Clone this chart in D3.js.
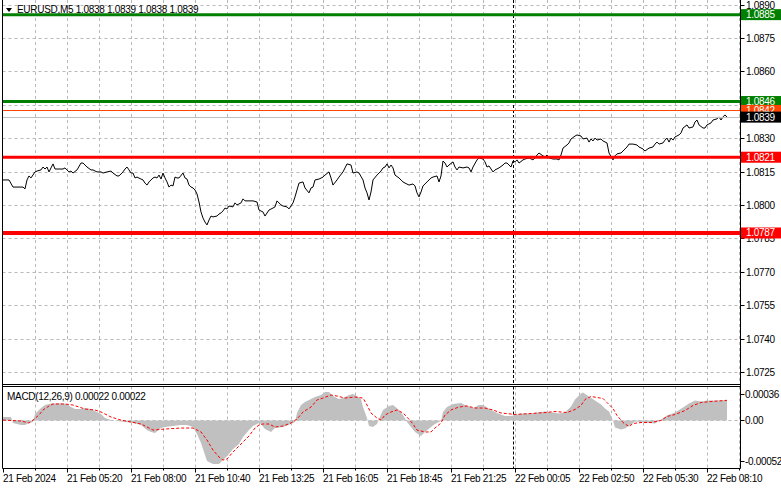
<!DOCTYPE html>
<html><head><meta charset="utf-8">
<script src="https://cdn.jsdelivr.net/npm/d3@7"></script>
<style>
html,body{margin:0;padding:0;background:#fff;}
svg{display:block;}
text{font-family:"Liberation Sans",Arial,sans-serif;font-size:10px;letter-spacing:-0.3px;fill:#000;}
</style></head><body>
<svg id="c" width="781" height="489"></svg>
<script>
// ---------------- DATA ----------------
const chartTitle = "EURUSD,M5  1.0838 1.0839 1.0838 1.0839";
const macdTitle = "MACD(12,26,9) 0.00022 0.00022";
const timeLabels = ["21 Feb 2024","21 Feb 05:20","21 Feb 08:00","21 Feb 10:40","21 Feb 13:25","21 Feb 16:05",
  "21 Feb 18:45","21 Feb 21:25","22 Feb 00:05","22 Feb 02:50","22 Feb 05:30","22 Feb 08:10"];
const timeLabelBars = [0,32,64,96,128,160,192,224,256,288,320,352];
const daySeparatorBar = 255;
const priceTicks = [1.0725,1.0740,1.0755,1.0770,1.0785,1.0800,1.0815,1.0830,1.0845,1.0860,1.0875,1.0890];
const hiddenPriceTicks = [1.0845]; // fully covered by the 1.0846 level label in the reference
const macdTicks = [0.00036, 0.00, -0.00052];
const macdTickLabels = ["0.00036","0.00","-0.00052"];
const resistanceLevels = [1.0885, 1.0846];
const supportLevels = [1.0821, 1.0787];
const askPrice = 1.0842;
const bidPrice = 1.0839;

// close price per bar index [bar, price]
const closeSeries = [
[0,1.08108],[3,1.08108],[5,1.08076],[10,1.08076],[11,1.08068],[12,1.08108],[13,1.08126],[14,1.08117],
[16,1.08144],[17,1.08148],[19,1.08153],[20,1.08166],[21,1.08157],[22,1.08166],[23,1.08144],[24,1.08162],
[25,1.08180],[26,1.08157],[28,1.08157],[30,1.08157],[31,1.08162],[33,1.08144],[34,1.08148],[35,1.08139],
[37,1.08153],[39,1.08184],[40,1.08184],[42,1.08166],[44,1.08153],[45,1.08153],[47,1.08144],[49,1.08144],
[50,1.08139],[52,1.08144],[54,1.08148],[55,1.08139],[57,1.08126],[58,1.08126],[60,1.08144],[61,1.08157],
[62,1.08166],[63,1.08153],[64,1.08139],[65,1.08139],[66,1.08117],[67,1.08121],[69,1.08112],[70,1.08108],
[71,1.08094],[72,1.08085],[73,1.08099],[75,1.08117],[76,1.08121],[77,1.08117],[78,1.08130],[79,1.08112],
[80,1.08139],[81,1.08117],[82,1.08099],[83,1.08076],[84,1.08085],[85,1.08081],[86,1.08121],[87,1.08117],
[88,1.08117],[90,1.08139],[91,1.08117],[92,1.08112],[93,1.08085],[94,1.08076],[95,1.08072],[96,1.08063],
[97,1.08045],[98,1.08009],[99,1.07964],[100,1.07937],[101,1.07919],[102,1.07906],[103,1.07928],[104,1.07946],
[105,1.07942],[107,1.07946],[108,1.07955],[109,1.07960],[110,1.07969],[111,1.07982],[112,1.07978],[113,1.07991],
[115,1.07987],[116,1.08005],[117,1.07996],[119,1.08005],[120,1.08023],[121,1.08014],[125,1.08014],[127,1.08009],
[128,1.07973],[130,1.07964],[131,1.07946],[133,1.07973],[135,1.07982],[136,1.07987],[137,1.08014],[139,1.07996],
[140,1.07991],[142,1.07987],[143,1.07978],[145,1.08005],[146,1.08032],[148,1.08094],[150,1.08099],[151,1.08072],
[153,1.08050],[154,1.08072],[155,1.08076],[156,1.08108],[158,1.08112],[160,1.08121],[161,1.08130],[163,1.08144],
[164,1.08117],[165,1.08085],[167,1.08108],[168,1.08121],[170,1.08144],[171,1.08162],[172,1.08180],[174,1.08175],
[175,1.08139],[177,1.08144],[178,1.08139],[180,1.08108],[181,1.08072],[182,1.08050],[183,1.08018],[184,1.08054],
[185,1.08108],[187,1.08130],[189,1.08148],[190,1.08162],[191,1.08166],[192,1.08180],[193,1.08162],[194,1.08175],
[195,1.08162],[196,1.08130],[198,1.08117],[200,1.08099],[201,1.08094],[203,1.08085],[205,1.08090],[206,1.08081],
[207,1.08050],[208,1.08032],[209,1.08054],[210,1.08081],[212,1.08099],[214,1.08117],[215,1.08121],[217,1.08126],
[218,1.08099],[219,1.08126],[220,1.08193],[221,1.08184],[222,1.08166],[223,1.08175],[225,1.08189],[226,1.08166],
[227,1.08153],[228,1.08166],[230,1.08162],[232,1.08166],[233,1.08162],[234,1.08144],[235,1.08166],[237,1.08198],
[238,1.08207],[240,1.08202],[241,1.08189],[242,1.08166],[243,1.08171],[245,1.08144],[246,1.08153],[248,1.08162],
[250,1.08175],[251,1.08184],[252,1.08184],[254,1.08166],[255,1.08193],[256,1.08189],[257,1.08198],[258,1.08184],
[260,1.08198],[261,1.08202],[263,1.08207],[265,1.08198],[266,1.08207],[267,1.08220],[268,1.08229],[270,1.08216],
[271,1.08211],[272,1.08220],[273,1.08207],[275,1.08202],[277,1.08202],[278,1.08198],[279,1.08220],[280,1.08251],
[282,1.08265],[283,1.08274],[284,1.08292],[286,1.08305],[287,1.08310],[289,1.08305],[290,1.08292],[292,1.08296],
[293,1.08278],[294,1.08292],[295,1.08283],[296,1.08296],[297,1.08287],[299,1.08292],[300,1.08283],[302,1.08274],
[303,1.08229],[305,1.08198],[306,1.08216],[307,1.08225],[309,1.08229],[310,1.08238],[312,1.08256],[313,1.08269],
[315,1.08269],[317,1.08265],[318,1.08256],[320,1.08247],[321,1.08238],[323,1.08251],[325,1.08256],[326,1.08269],
[327,1.08278],[328,1.08269],[330,1.08274],[331,1.08287],[332,1.08296],[333,1.08278],[334,1.08296],[335,1.08287],
[336,1.08301],[338,1.08310],[339,1.08319],[340,1.08341],[342,1.08355],[343,1.08341],[345,1.08346],[346,1.08368],
[347,1.08377],[348,1.08355],[350,1.08341],[351,1.08341],[352,1.08355],[354,1.08364],[355,1.08377],[357,1.08382],
[358,1.08391],[359,1.08377],[360,1.08391],[361,1.08400],[362,1.08390]
];

// MACD main (histogram) [bar, value]
const macdHist = [
[0,0.000038],[4,0.000038],[5,-0.000027],[9,-0.000049],[11,-0.000049],[13,-0.000027],[15,-0.000016],[16,0.000071],
[19,0.000136],[21,0.000169],[24,0.000185],[29,0.000188],[32,0.000180],[34,0.000147],[36,0.000125],[39,0.000125],
[41,0.000136],[44,0.000125],[46,0.000104],[49,0.000071],[51,0.000027],[54,0.000005],[57,-0.000005],[61,-0.000016],
[65,-0.000027],[69,-0.000049],[72,-0.000104],[74,-0.000125],[76,-0.000136],[79,-0.000082],[81,-0.000071],[85,-0.000060],
[89,-0.000049],[92,-0.000049],[95,-0.000071],[97,-0.000147],[99,-0.000245],[101,-0.000376],[102,-0.000442],[105,-0.000475],
[108,-0.000475],[110,-0.000431],[113,-0.000365],[115,-0.000311],[118,-0.000256],[120,-0.000180],[123,-0.000104],[125,-0.000060],
[128,-0.000027],[129,-0.000038],[131,-0.000093],[134,-0.000125],[136,-0.000082],[140,-0.000071],[144,-0.000038],[146,-0.000016],
[147,0.000082],[149,0.000169],[151,0.000202],[154,0.000235],[156,0.000256],[159,0.000278],[161,0.000311],[163,0.000311],
[165,0.000267],[168,0.000235],[170,0.000245],[173,0.000278],[175,0.000289],[177,0.000267],[179,0.000235],[180,0.000147],
[182,0.000027],[183,-0.000060],[185,-0.000071],[187,-0.000038],[188,0.000016],[190,0.000115],[193,0.000158],[195,0.000169],
[198,0.000115],[200,0.000060],[202,-0.000016],[204,-0.000071],[206,-0.000125],[209,-0.000169],[211,-0.000125],[214,-0.000071],
[216,-0.000038],[219,-0.000005],[220,0.000093],[222,0.000147],[225,0.000180],[229,0.000191],[231,0.000169],[235,0.000136],
[238,0.000169],[240,0.000169],[244,0.000115],[247,0.000082],[251,0.000049],[254,0.000049],[255,0.000055],[259,0.000076],
[264,0.000076],[267,0.000087],[271,0.000098],[275,0.000087],[278,0.000076],[281,0.000087],[284,0.000153],[286,0.000229],
[289,0.000295],[290,0.000305],[293,0.000262],[296,0.000218],[299,0.000175],[301,0.000131],[303,0.000098],[305,0.000000],
[306,-0.000076],[309,-0.000098],[311,-0.000087],[314,-0.000044],[316,-0.000011],[321,-0.000022],[326,-0.000033],[329,0.000011],
[332,0.000055],[336,0.000087],[340,0.000142],[343,0.000185],[346,0.000218],[349,0.000207],[352,0.000218],[356,0.000218],
[362,0.000220]
];

// MACD signal [bar, value]
const macdSignal = [
[0,0.000005],[9,-0.000005],[13,-0.000027],[15,0.000005],[18,0.000060],[20,0.000115],[23,0.000158],[25,0.000180],
[31,0.000180],[35,0.000169],[38,0.000147],[41,0.000125],[46,0.000115],[49,0.000093],[54,0.000038],[59,0.000005],
[64,-0.000016],[69,-0.000038],[73,-0.000082],[75,-0.000104],[81,-0.000093],[89,-0.000082],[95,-0.000082],[99,-0.000125],
[102,-0.000213],[105,-0.000322],[108,-0.000398],[110,-0.000431],[112,-0.000420],[115,-0.000344],[119,-0.000256],[123,-0.000169],
[126,-0.000082],[128,-0.000049],[130,-0.000038],[133,-0.000038],[136,-0.000071],[140,-0.000060],[144,-0.000027],[147,0.000016],
[150,0.000093],[154,0.000147],[157,0.000224],[160,0.000245],[164,0.000278],[167,0.000267],[171,0.000245],[176,0.000256],
[180,0.000245],[182,0.000169],[184,0.000082],[187,0.000027],[189,0.000005],[191,0.000060],[194,0.000093],[197,0.000115],
[200,0.000082],[202,0.000038],[205,-0.000038],[207,-0.000104],[211,-0.000125],[214,-0.000125],[216,-0.000082],[219,-0.000027],
[221,0.000060],[224,0.000115],[228,0.000147],[232,0.000158],[236,0.000136],[241,0.000136],[245,0.000115],[249,0.000082],
[254,0.000071],[255,0.000065],[264,0.000076],[271,0.000087],[276,0.000098],[282,0.000087],[286,0.000120],[289,0.000164],
[291,0.000229],[294,0.000262],[297,0.000251],[300,0.000240],[302,0.000196],[305,0.000131],[307,0.000055],[310,-0.000022],
[313,-0.000065],[315,-0.000033],[319,-0.000022],[324,-0.000022],[329,0.000000],[332,0.000044],[336,0.000065],[341,0.000109],
[345,0.000164],[349,0.000196],[354,0.000207],[362,0.000220]
];

// ---------------- DRAW ----------------
const svg = d3.select("#c");
const L = 2.5, R = 740.5, mainTop = 0, mainBot = 384.5, macdTop = 386.5, macdBot = 468.5;
const gridColor = "#b8b8b8";
const crisp = v => Math.round(v - 0.5) + 0.5;

const x = d3.scaleLinear().domain([0, 368.75]).range([3, 740.5]);
const y = d3.scaleLinear().domain([1.0725, 1.0890]).range([371.1, 3.5]);
const ym = d3.scaleLinear().domain([-0.00052, 0.00036]).range([468.2, 387.5]);

const defs = svg.append("defs");
defs.append("clipPath").attr("id","cm").append("rect").attr("x",L).attr("y",mainTop).attr("width",R-L).attr("height",mainBot-mainTop);
defs.append("clipPath").attr("id","cd").append("rect").attr("x",L).attr("y",macdTop).attr("width",R-L).attr("height",macdBot-macdTop);

svg.append("rect").attr("width",781).attr("height",489).attr("fill","#fff");

// grids
const gMain = svg.append("g").attr("clip-path","url(#cm)");
const gMacd = svg.append("g").attr("clip-path","url(#cd)");

gMain.selectAll(".hg").data(priceTicks).join("line")
  .attr("x1",L).attr("x2",R).attr("y1",d=>crisp(y(d)+1.5)).attr("y2",d=>crisp(y(d)+1.5))
  .attr("stroke",gridColor).attr("stroke-dasharray","3,3");

const vgrid = d3.range(16, 369, 16);
[[gMain,mainTop,mainBot],[gMacd,macdTop,macdBot]].forEach(([g,t,b])=>{
  g.selectAll(".vg").data(vgrid).join("line")
    .attr("x1",d=>crisp(x(d))).attr("x2",d=>crisp(x(d))).attr("y1",t).attr("y2",b)
    .attr("stroke",gridColor).attr("stroke-dasharray","3,3");
});

// macd zero line
gMacd.append("line").attr("x1",L).attr("x2",R+40).attr("y1",crisp(ym(0))).attr("y2",crisp(ym(0)))
  .attr("stroke",gridColor).attr("stroke-dasharray","3,3");
svg.append("line").attr("x1",R).attr("x2",R+5).attr("y1",crisp(ym(0))).attr("y2",crisp(ym(0)))
  .attr("stroke",gridColor).attr("stroke-dasharray","3,3");

// day separator
[[gMain,mainTop,mainBot],[gMacd,macdTop,macdBot]].forEach(([g,t,b])=>{
  g.append("line").attr("x1",crisp(x(daySeparatorBar))).attr("x2",crisp(x(daySeparatorBar)))
    .attr("y1",t).attr("y2",b).attr("stroke","#000").attr("stroke-dasharray","3,2");
});

// MACD histogram
gMacd.append("path").datum(macdHist)
  .attr("d", d3.area().x(d=>x(d[0])).y0(ym(0)).y1(d=>ym(d[1])))
  .attr("fill","#c0c0c0");
// signal
gMacd.append("path").datum(macdSignal)
  .attr("d", d3.line().x(d=>x(d[0])).y(d=>ym(d[1])))
  .attr("fill","none").attr("stroke","#ff0000").attr("stroke-width",1).attr("stroke-dasharray","3,2");

// title text (under lines)
svg.append("path").attr("d","M6,8 L12,8 L9,12 Z").attr("fill","#000");
svg.append("text").attr("x",17).attr("y",9.5).attr("dy","0.35em").text(chartTitle);
svg.append("text").attr("x",7).attr("y",396).attr("dy","0.35em").text(macdTitle);

// price line
gMain.append("path").datum(closeSeries)
  .attr("d", d3.line().x(d=>x(d[0])).y(d=>y(d[1])))
  .attr("fill","none").attr("stroke","#000").attr("stroke-width",1);

// levels
const levelStyle = [
  ...resistanceLevels.map(p=>({p, c:"#008000", w:3})),
  ...supportLevels.map((p,i)=>({p, c:"#ff0000", w: i===0?3:4}))
];
gMain.append("line").attr("x1",L).attr("x2",R).attr("y1",crisp(y(askPrice))).attr("y2",crisp(y(askPrice)))
  .attr("stroke","#ff4500").attr("stroke-width",1);
gMain.append("line").attr("x1",L).attr("x2",R).attr("y1",crisp(y(bidPrice))).attr("y2",crisp(y(bidPrice)))
  .attr("stroke","#c0c0c0").attr("stroke-width",1);
gMain.selectAll(".lvl").data(levelStyle).join("line")
  .attr("x1",L).attr("x2",R).attr("y1",d=>y(d.p)).attr("y2",d=>y(d.p))
  .attr("stroke",d=>d.c).attr("stroke-width",d=>d.w);

// frame
const frame = svg.append("g").attr("stroke","#000").attr("stroke-width",1).attr("fill","none");
frame.append("line").attr("x1",L).attr("x2",L).attr("y1",0).attr("y2",macdBot);
frame.append("line").attr("x1",R).attr("x2",R).attr("y1",0).attr("y2",macdBot);
frame.append("line").attr("x1",L).attr("x2",R).attr("y1",mainBot).attr("y2",mainBot);
frame.append("line").attr("x1",L).attr("x2",R).attr("y1",macdTop).attr("y2",macdTop);
frame.append("line").attr("x1",L).attr("x2",R).attr("y1",macdBot).attr("y2",macdBot);

// price axis ticks & labels
priceTicks.forEach(t=>{
  const yy = crisp(y(t)+1.5);
  svg.append("line").attr("x1",R).attr("x2",R+4).attr("y1",yy).attr("y2",yy).attr("stroke","#000");
  if (!hiddenPriceTicks.includes(t))
    svg.append("text").attr("x",746).attr("y",Math.max(5,yy)).attr("dy","0.35em").text(t.toFixed(4));
});

// macd axis
macdTicks.forEach((t,i)=>{
  const yy = crisp(Math.max(394, Math.min(461, ym(t))));
  svg.append("line").attr("x1",R).attr("x2",R+4).attr("y1",yy).attr("y2",yy).attr("stroke","#000");
  svg.append("text").attr("x",745).attr("y",yy).attr("dy","0.35em").text(macdTickLabels[i]);
});

// price label boxes
function priceBox(p, fill){
  const yy = y(p);
  svg.append("rect").attr("x",741).attr("y",yy-5.5).attr("width",40).attr("height",11).attr("fill",fill);
  svg.append("text").attr("x",746).attr("y",yy).attr("dy","0.35em").style("fill","#fff").text(p.toFixed(4));
}
resistanceLevels.forEach(p=>priceBox(p,"#008000"));
supportLevels.forEach(p=>priceBox(p,"#ff0000"));
priceBox(askPrice,"#ff4500");
priceBox(bidPrice,"#000");

// time axis
const minorTicks = timeLabelBars.map(b=>b+16);
minorTicks.forEach(b=>{
  const xx = crisp(x(b));
  svg.append("line").attr("x1",xx).attr("x2",xx).attr("y1",macdBot).attr("y2",macdBot+2).attr("stroke","#000");
});
timeLabelBars.forEach((b,i)=>{
  const xx = crisp(x(b));
  svg.append("line").attr("x1",xx).attr("x2",xx).attr("y1",macdBot).attr("y2",macdBot+4).attr("stroke","#000");
  svg.append("text").attr("x",xx-0.5).attr("y",478).attr("dy","0.35em").text(timeLabels[i]);
});
</script>
</body></html>
